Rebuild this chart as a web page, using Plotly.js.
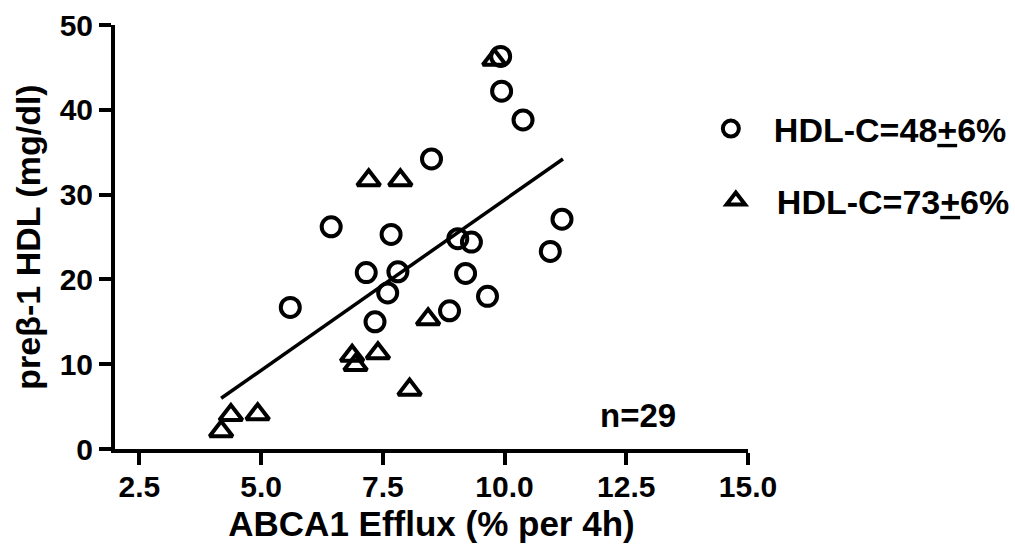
<!DOCTYPE html>
<html>
<head>
<meta charset="utf-8">
<script src="https://cdn.plot.ly/plotly-3.0.1.min.js"></script>
<style>html,body{margin:0;padding:0;background:#fff;}#chart{width:1015px;height:549px;}</style>
</head>
<body>
<div id="chart"></div>
<script>
// HDL-C = 48±6% group (open circles)
var circleX = [9.92, 9.94, 10.38, 8.50, 6.44, 7.67, 11.18, 9.04, 9.32, 7.16, 7.81, 9.20, 10.94, 7.60, 5.60, 9.65, 8.87, 7.34];
var circleY = [46.3, 42.2, 38.8, 34.2, 26.2, 25.3, 27.1, 24.8, 24.4, 20.8, 20.9, 20.7, 23.3, 18.4, 16.7, 18.0, 16.3, 15.0];
// HDL-C = 73±6% group (open triangles)
var triX = [9.79, 7.21, 7.86, 8.43, 6.87, 6.94, 7.40, 8.05, 4.38, 4.93, 4.18];
var triY = [45.9, 31.7, 31.7, 15.3, 11.0, 9.9, 11.3, 7.0, 4.0, 4.1, 2.1];
// regression line end points
var fitX = [4.18, 11.20];
var fitY = [5.98, 34.2];
var xTickVals = [2.5, 5.0, 7.5, 10.0, 12.5, 15.0];
var yTickVals = [0, 10, 20, 30, 40, 50];
var seriesNames = ['HDL-C=48<u>+</u>6%', 'HDL-C=73<u>+</u>6%'];

var FONT = '"Liberation Sans", Arial, Helvetica, sans-serif';

var traces = [
  {x: fitX, y: fitY, mode: 'lines', line: {color: '#000', width: 3.5}, showlegend: false, hoverinfo: 'skip'},
  {x: circleX, y: circleY, mode: 'markers', name: seriesNames[0], legend: 'legend',
   marker: {symbol: 'circle-open', size: 19, color: '#000', line: {width: 4, color: '#000'}}},
  {x: triX, y: triY, mode: 'markers', name: seriesNames[1], legend: 'legend2',
   marker: {symbol: 'triangle-up-open', size: 20, color: '#000', line: {width: 4, color: '#000'}}}
];

var legendBase = {
  xref: 'paper', yref: 'paper', xanchor: 'left', yanchor: 'middle',
  font: {family: FONT, size: 34, color: '#000', weight: 'bold'},
  bgcolor: 'rgba(0,0,0,0)', borderwidth: 0, itemsizing: 'trace'
};

var layout = {
  width: 1015, height: 549,
  margin: {l: 115, r: 267, t: 25, b: 100, pad: 0, autoexpand: false},
  paper_bgcolor: '#fff', plot_bgcolor: '#fff',
  font: {family: FONT, color: '#000'},
  showlegend: true,
  legend: Object.assign({}, legendBase, {x: 0.905, y: (449 - 129) / 424, itemwidth: 76}),
  legend2: Object.assign({}, legendBase, {x: 0.916, y: (449 - 201) / 424, itemwidth: 72}),
  xaxis: {
    range: [2, 15], tickvals: xTickVals, tickformat: '.1f',
    showgrid: false, zeroline: false, showline: true, linecolor: '#000', linewidth: 4,
    ticks: 'outside', ticklen: 12, tickwidth: 4, tickcolor: '#000', ticklabelstandoff: -4,
    tickfont: {family: FONT, size: 30, color: '#000', weight: 'bold'},
    title: {text: 'ABCA1 Efflux (% per 4h)', font: {family: FONT, size: 35, color: '#000', weight: 'bold'}, standoff: 10}
  },
  yaxis: {
    range: [0, 50], tickvals: yTickVals,
    showgrid: false, zeroline: false, showline: true, linecolor: '#000', linewidth: 4,
    ticks: 'outside', ticklen: 12, tickwidth: 4, tickcolor: '#000',
    tickfont: {family: FONT, size: 30, color: '#000', weight: 'bold'},
    title: {text: 'preβ-1 HDL (mg/dl)', font: {family: FONT, size: 34, color: '#000', weight: 'bold'}, standoff: 10}
  },
  annotations: [
    {text: 'n=29', xref: 'paper', yref: 'paper', x: 0.826, y: 0.08, xanchor: 'center', yanchor: 'middle', showarrow: false,
     font: {family: FONT, size: 33, color: '#000', weight: 'bold'}}
  ]
};

Plotly.newPlot('chart', traces, layout, {displayModeBar: false, staticPlot: true});
</script>
</body>
</html>
